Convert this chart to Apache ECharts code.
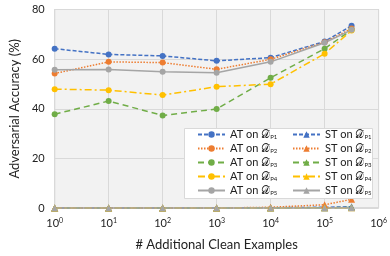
<!DOCTYPE html>
<html><head><meta charset="utf-8">
<script src="https://cdn.jsdelivr.net/npm/echarts@6/dist/echarts.min.js"></script>
<style>html,body{margin:0;padding:0;background:#fff}#c{width:390px;height:256px}</style>
</head><body><div id="c"></div>
<script>
const xValues = [1, 10, 100, 1000, 10000, 100000, 316000];
const yTicks = [0, 20, 40, 60, 80];
const atP1 = [64.2, 61.9, 61.3, 59.3, 60.6, 67.1, 73.5];
const atP2 = [54.2, 58.9, 58.6, 55.9, 59.9, 66.8, 72.3];
const atP3 = [37.8, 43.1, 37.3, 39.9, 52.5, 64.2, 71.8];
const atP4 = [47.9, 47.5, 45.5, 48.9, 49.9, 62.2, 71.5];
const atP5 = [55.7, 55.8, 54.9, 54.5, 58.9, 66.6, 71.8];
const stP1 = [0, 0, 0, 0, 0.1, 0.3, 0.5];
const stP2 = [0, 0, 0, 0, 0.3, 1.3, 3.5];
const stP3 = [0, 0, 0, 0, 0, 0.1, 0.2];
const stP4 = [0, 0, 0, 0, 0, 0.1, 0.1];
const stP5 = [0, 0, 0, 0, 0, 0, 0.1];
const subs = ['P1', 'P2', 'P3', 'P4', 'P5'];
const colors = ['#4472C4', '#ED7D31', '#70AD47', '#FFC000', '#A5A5A5'];
const dashes = [[4, 2], [1.5, 1.5], [6, 4], [7, 3, 2, 3], 'solid'];
const FONT = 'Lato, "DejaVu Sans", sans-serif';

const pair = arr => arr.map((v, i) => [xValues[i], v]);
const atData = [atP1, atP2, atP3, atP4, atP5];
const stData = [stP1, stP2, stP3, stP4, stP5];

const series = [];
['AT', 'ST'].forEach((kind, k) => {
  const src = k === 0 ? atData : stData;
  src.forEach((d, i) => {
    series.push({
      name: kind + ' ' + subs[i],
      type: 'line',
      data: pair(d),
      symbol: k === 0 ? 'circle' : 'triangle',
      symbolSize: k === 0 ? 6 : 7,
      itemStyle: { color: colors[i] },
      lineStyle: { color: colors[i], width: 1.5, type: dashes[i] },
      clip: false,
      z: k === 0 ? 3 : 2
    });
  });
});

const legendFmt = name => {
  const parts = name.split(' ');
  return parts[0] + ' on 𝒟̂{s|' + parts[1] + '}';
};
const legendCommon = {
  orient: 'vertical', top: 129, padding: 0, itemWidth: 27, itemHeight: 8, itemGap: 3,
  formatter: legendFmt,
  textStyle: { fontFamily: FONT, fontSize: 11, color: '#222', lineHeight: 11,
    rich: { s: { fontFamily: FONT, fontSize: 6, verticalAlign: 'bottom', padding: [4, 0, 0, 0], color: '#222' } } }
};

const chart = echarts.init(document.getElementById('c'), null, { renderer: 'canvas' });
chart.setOption({
  animation: false,
  grid: { left: 52, right: 8, top: 9.5, bottom: 45.5, show: true, backgroundColor: '#f2f2f2', borderColor: '#c0c0c0', borderWidth: 1 },
  xAxis: {
    type: 'log', logBase: 10, min: 1, max: 1000000,
    name: '# Additional Clean Examples', nameLocation: 'middle', nameGap: 30,
    nameTextStyle: { fontFamily: FONT, fontSize: 13, color: '#222' },
    axisLine: { show: false }, axisTick: { show: false },
    splitLine: { show: true, lineStyle: { color: '#d9d9d9', width: 1 } },
    axisLabel: {
      margin: 9,
      formatter: v => '{b|10}{s|' + Math.round(Math.log10(v)) + '}',
      rich: { b: { fontFamily: FONT, fontSize: 11, color: '#222' }, s: { fontFamily: FONT, fontSize: 7, color: '#222', verticalAlign: 'top', padding: [0, 0, 5, 0] } }
    }
  },
  yAxis: {
    type: 'value', min: yTicks[0], max: yTicks[yTicks.length - 1], interval: 20,
    name: 'Adversarial Accuracy (%)', nameLocation: 'middle', nameGap: 32,
    nameTextStyle: { fontFamily: FONT, fontSize: 13, color: '#222' },
    axisLine: { show: false }, axisTick: { show: false },
    splitLine: { show: true, lineStyle: { color: '#d9d9d9', width: 1 } },
    axisLabel: { margin: 10, fontFamily: FONT, fontSize: 11, color: '#222' }
  },
  legend: [
    Object.assign({ left: 197, data: series.slice(0, 5).map(s => s.name) }, legendCommon),
    Object.assign({ left: 292, data: series.slice(5).map(s => s.name) }, legendCommon)
  ],
  graphic: [{ type: 'rect', left: 184, top: 128, shape: { width: 188, height: 70 }, style: { fill: '#fff', stroke: '#d9d9d9' }, z: 3 }],
  series: series
});
</script></body></html>
